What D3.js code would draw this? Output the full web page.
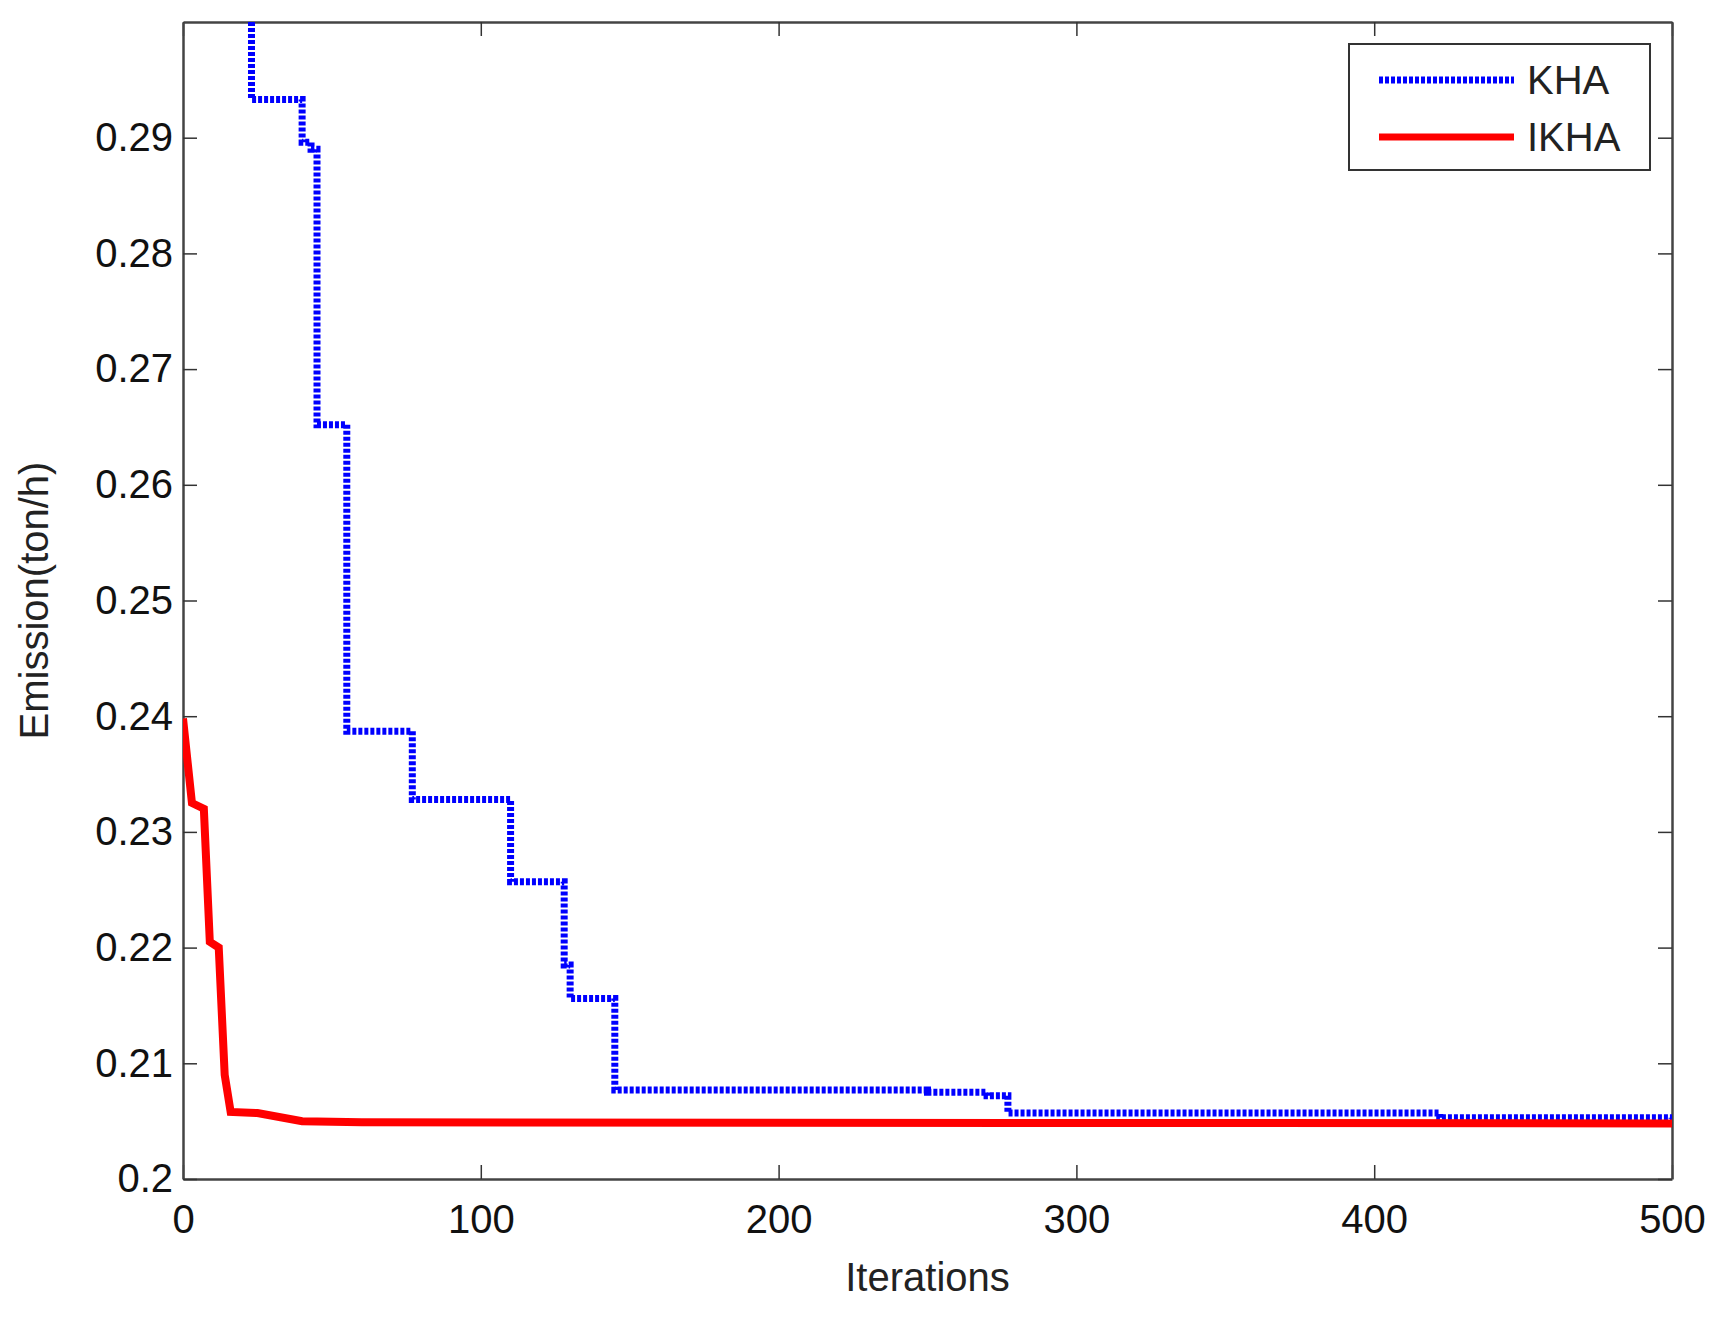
<!DOCTYPE html>
<html><head><meta charset="utf-8">
<script src="https://cdn.jsdelivr.net/npm/d3@7"></script>
<style>body{margin:0;background:#fff}text{font-family:Arial,"Liberation Sans",sans-serif}</style>
</head><body><svg></svg>
<script>
var width = 1724, height = 1317;
var margin = {left: 183, right: 52, top: 22, bottom: 138};

var khaIter = [0, 23, 40, 43, 45, 55, 77, 110, 128, 130, 145, 250, 270, 277, 422, 500];
var khaVal = [0.32, 0.2933, 0.2896, 0.2890, 0.2652, 0.2387, 0.2328, 0.2257, 0.2185, 0.2156, 0.2077, 0.2075, 0.2072, 0.2057, 0.2053, 0.2052];
var ikhaIter = [0, 3, 7, 9, 12, 14, 16, 25, 40, 60, 500];
var ikhaVal = [0.2398, 0.2325, 0.2320, 0.2205, 0.2200, 0.2090, 0.2058, 0.2057, 0.2050, 0.2049, 0.2048];
var xTicks = [0, 100, 200, 300, 400, 500];
var yTicks = [0.2, 0.21, 0.22, 0.23, 0.24, 0.25, 0.26, 0.27, 0.28, 0.29];

var svg = d3.select("svg").attr("width", width).attr("height", height);
var x = d3.scaleLinear().domain([0, 500]).range([margin.left, width - margin.right]);
var y = d3.scaleLinear().domain([0.2, 0.3]).range([height - margin.bottom, margin.top]);

svg.append("defs").append("clipPath").attr("id", "clip").append("rect")
    .attr("x", x(0)).attr("y", y(0.3)).attr("width", x(500) - x(0)).attr("height", y(0.2) - y(0.3));

var tick = 14;
var gx = svg.append("g").attr("transform", "translate(0," + y(0.2) + ")")
    .call(d3.axisBottom(x).tickValues(xTicks).tickSize(-tick).tickSizeOuter(0).tickPadding(14));
gx.selectAll("text").attr("dy", "1em");
svg.append("g").attr("transform", "translate(0," + y(0.3) + ")")
    .call(d3.axisTop(x).tickValues(xTicks).tickSize(-tick).tickSizeOuter(0).tickFormat(""));
svg.append("g").attr("transform", "translate(" + x(0) + ",0)")
    .call(d3.axisLeft(y).tickValues(yTicks).tickSize(-tick).tickSizeOuter(0).tickPadding(10).tickFormat(d3.format("")));
svg.append("g").attr("transform", "translate(" + x(500) + ",0)")
    .call(d3.axisRight(y).tickValues(yTicks).tickSize(-tick).tickSizeOuter(0).tickFormat(""));
svg.selectAll(".domain").attr("stroke", "#444").attr("stroke-width", 2.5);
svg.selectAll(".tick line").attr("stroke", "#333").attr("stroke-width", 1.5);
svg.selectAll(".tick text").attr("font-size", 40).attr("fill", "#111");

var khaData = khaIter.map((d, i) => [d, khaVal[i]]);
var ikhaData = ikhaIter.map((d, i) => [d, ikhaVal[i]]);

svg.append("path").datum(khaData).attr("clip-path", "url(#clip)")
    .attr("d", d3.line().x(d => x(d[0])).y(d => y(d[1])).curve(d3.curveStepAfter))
    .attr("fill", "none").attr("stroke", "#0000ff").attr("stroke-width", 7).attr("stroke-dasharray", "4,2");
svg.append("path").datum(ikhaData).attr("clip-path", "url(#clip)")
    .attr("d", d3.line().x(d => x(d[0])).y(d => y(d[1])))
    .attr("fill", "none").attr("stroke", "#ff0000").attr("stroke-width", 8);

svg.append("text").attr("x", (x(0) + x(500)) / 2).attr("y", height - 26)
    .attr("text-anchor", "middle").attr("font-size", 40).attr("fill", "#222").text("Iterations");
svg.append("text").attr("transform", "rotate(-90)").attr("x", -(y(0.2) + y(0.3)) / 2).attr("y", 48)
    .attr("text-anchor", "middle").attr("font-size", 40).attr("fill", "#222").text("Emission(ton/h)");

var lg = svg.append("g").attr("transform", "translate(1349,44)");
lg.append("rect").attr("width", 301).attr("height", 126).attr("fill", "#fff").attr("stroke", "#333").attr("stroke-width", 2);
var legendNames = ["KHA", "IKHA"];
var legendColors = ["#0000ff", "#ff0000"];
legendNames.forEach(function (n, i) {
  var ly = 36 + i * 57;
  lg.append("line").attr("x1", 30).attr("x2", 165).attr("y1", ly).attr("y2", ly)
    .attr("stroke", legendColors[i]).attr("stroke-width", 7).attr("stroke-dasharray", i === 0 ? "4,2" : null);
  lg.append("text").attr("x", 178).attr("y", ly + 14).attr("font-size", 40).attr("fill", "#222").text(n);
});
</script></body></html>
